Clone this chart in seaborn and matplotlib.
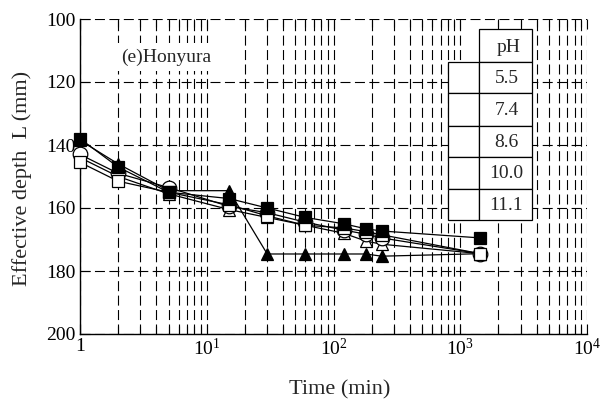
import matplotlib
matplotlib.use("Agg")
import matplotlib.pyplot as plt
import matplotlib.ticker as mticker
from matplotlib.patches import Rectangle
import seaborn as sns
import pandas as pd

# ---------------- data ----------------
times = [1, 2, 5, 15, 30, 60, 120, 180, 240, 1440]
ph_labels = ["5.5", "7.4", "8.6", "10.0", "11.1"]
depth_ph55 = [143.0, 149.0, 153.5, 159.5, 161.5, 164.5, 167.0, 168.3, 169.5, 174.5]
depth_ph74 = [144.0, 150.0, 155.5, 160.5, 163.0, 165.5, 168.0, 170.5, 171.5, 174.5]
depth_ph86 = [145.5, 151.5, 155.0, 159.0, 162.5, 165.5, 166.3, 167.5, 168.5, 174.5]
depth_ph100 = [138.5, 146.0, 154.5, 154.5, 174.6, 174.6, 174.6, 174.6, 175.3, 174.5]
depth_ph111 = [138.0, 147.0, 155.0, 157.0, 160.0, 163.0, 165.0, 166.6, 167.3, 169.5]
series = [depth_ph55, depth_ph74, depth_ph86, depth_ph100, depth_ph111]
yticks = [100, 120, 140, 160, 180, 200]
xticks = [1, 10, 100, 1000, 10000]
xticklabels = ["1", r"$\mathregular{10^{1}}$", r"$\mathregular{10^{2}}$",
               r"$\mathregular{10^{3}}$", r"$\mathregular{10^{4}}$"]
panel_label = "(e)Honyura"
table_header = "pH"

# ---------------- style ----------------
sns.set_style("ticks")
plt.rcParams["font.family"] = ["Liberation Serif", "DejaVu Serif"]
plt.rcParams["mathtext.fontset"] = "custom"
plt.rcParams["mathtext.rm"] = "Liberation Serif"
plt.rcParams["mathtext.it"] = "Liberation Serif:italic"
plt.rcParams["mathtext.bf"] = "Liberation Serif:bold"

# marker style and drawing order per series
styles = [
    dict(marker="o", mfc="white", ms=10.5, z=6),
    dict(marker="^", mfc="white", ms=9, z=3),
    dict(marker="s", mfc="white", ms=8, z=7),
    dict(marker="^", mfc="black", ms=9, z=4),
    dict(marker="s", mfc="black", ms=8, z=8),
]

fig = plt.figure(figsize=(6.08, 4.01), dpi=100)
L, R, T, B = 80, 587, 19, 334
W, H = 608, 401
ax = fig.add_axes([L / W, 1 - B / H, (R - L) / W, (B - T) / H])

rows = []
for lab, vals in zip(ph_labels, series):
    for t, v in zip(times, vals):
        rows.append({"time": t, "depth": v, "pH": lab})
df = pd.DataFrame(rows)

ax.set_xscale("log")
for i, lab in enumerate(ph_labels):
    sub = df[df["pH"] == lab]
    st = styles[i]
    sns.lineplot(data=sub, x="time", y="depth", ax=ax, color="black",
                 linewidth=0.9, marker=st["marker"], markersize=st["ms"],
                 markerfacecolor=st["mfc"], markeredgecolor="black",
                 markeredgewidth=0.9, legend=False, zorder=st["z"],
                 estimator=None, sort=True, clip_on=False)

ax.set_xlim(1, 10000)
ax.set_ylim(200, 100)
ax.set_xticks(xticks)
ax.set_xticklabels(xticklabels)
ax.xaxis.set_minor_locator(mticker.LogLocator(base=10, subs=range(2, 10), numticks=20))
ax.xaxis.set_minor_formatter(mticker.NullFormatter())
ax.set_yticks(yticks)
ax.set_yticklabels([str(v) for v in yticks])

dash = (0, (9, 4))
ax.grid(which="major", axis="both", color="black", linewidth=0.8, linestyle=dash)
ax.grid(which="minor", axis="x", color="black", linewidth=0.8, linestyle=dash)
ax.set_axisbelow(True)

for s in ["top", "right"]:
    ax.spines[s].set_visible(False)
for s in ["left", "bottom"]:
    ax.spines[s].set_color("black")
    ax.spines[s].set_linewidth(1.0)

ax.tick_params(which="both", direction="in", top=True, right=False,
               colors="black", labelsize=14, pad=3)
ax.tick_params(which="major", length=7, width=0.8)
ax.tick_params(which="minor", length=6, width=0.8)

ax.set_xlabel("Time (min)", fontsize=16)
ax.set_ylabel("Effective depth  L (mm)", fontsize=16)
ax.xaxis.set_label_coords((340 - L) / (R - L), (B - 390) / (B - T))
ax.yaxis.set_label_coords((22 - L) / (R - L), (B - 178) / (B - T))
ax.xaxis.label.set_va("center")
ax.yaxis.label.set_va("center")
ax.yaxis.label.set_ha("center")


def px(x, y):
    return ((x - L) / (R - L), (B - y) / (B - T))


# panel label with white background
ax.text(*px(121, 57), panel_label, transform=ax.transAxes, fontsize=14,
        ha="left", va="center", zorder=10,
        bbox=dict(facecolor="white", edgecolor="none", pad=4))

# table-like legend
col_l, col_m, col_r = 448, 479, 532
row_edges = [62, 93, 126, 157, 189, 220]


def rect(x0, y0, x1, y1):
    ax0, ay1 = px(x0, y0)
    ax1, ay0 = px(x1, y1)
    ax.add_patch(Rectangle((ax0, ay0), ax1 - ax0, ay1 - ay0,
                           transform=ax.transAxes, facecolor="white",
                           edgecolor="black", linewidth=0.9, zorder=12,
                           clip_on=False))


rect(col_m, 29, col_r, row_edges[0])
ax.text(*px((col_m + col_r) / 2 + 3, (29 + row_edges[0]) / 2 + 2), table_header,
        transform=ax.transAxes, fontsize=14, ha="center", va="center", zorder=13)
for k, lab in enumerate(ph_labels):
    y0, y1 = row_edges[k], row_edges[k + 1]
    rect(col_l, y0, col_m, y1)
    rect(col_m, y0, col_r, y1)
    ax.text(*px((col_m + col_r) / 2 + 1, (y0 + y1) / 2 + 1), lab,
            transform=ax.transAxes, fontsize=14, ha="center", va="center",
            zorder=13)

fig.savefig("out.png", dpi=100)
